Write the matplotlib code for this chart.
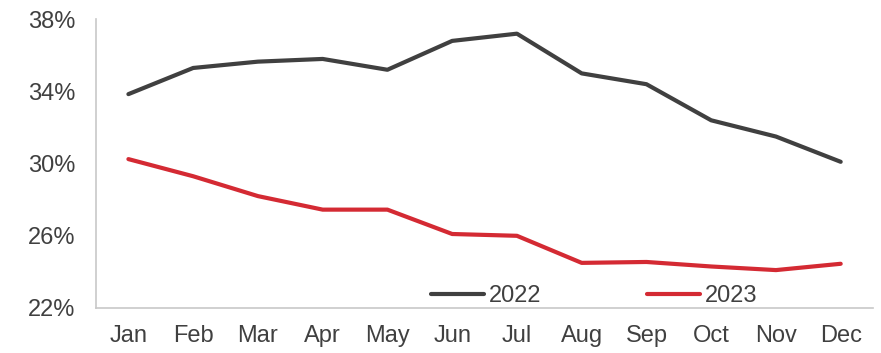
import numpy as np
import matplotlib.pyplot as plt
from matplotlib.ticker import FuncFormatter

plt.rcParams['font.family'] = ['Liberation Sans', 'DejaVu Sans']

months = ['Jan', 'Feb', 'Mar', 'Apr', 'May', 'Jun',
          'Jul', 'Aug', 'Sep', 'Oct', 'Nov', 'Dec']
share_2022 = [33.85, 35.3, 35.65, 35.8, 35.2, 36.8,
              37.2, 35.0, 34.4, 32.4, 31.5, 30.1]
share_2023 = [30.25, 29.3, 28.2, 27.45, 27.45, 26.1,
              26.0, 24.5, 24.55, 24.3, 24.1, 24.45]
y_ticks = [22, 26, 30, 34, 38]

text_col = '#404040'
fs = 17

fig = plt.figure(figsize=(8.81, 3.53), dpi=100)
ax = fig.add_axes([0.109, 0.1275, 0.882, 0.818])

x = np.arange(len(months))
ax.plot(x, share_2022, color='#404040', lw=3, label='2022',
        solid_capstyle='round', solid_joinstyle='round')
ax.plot(x, share_2023, color='#D42A33', lw=3, label='2023',
        solid_capstyle='round', solid_joinstyle='round')

ax.set_xlim(-0.5, len(months) - 0.5)
ax.set_ylim(22, 38)
ax.set_xticks(x)
ax.set_xticklabels(months)
ax.set_yticks(y_ticks)
ax.yaxis.set_major_formatter(FuncFormatter(lambda v, p: f'{v:.0f}%'))

for side in ['top', 'right']:
    ax.spines[side].set_visible(False)
for side in ['left', 'bottom']:
    ax.spines[side].set_color('#C8C8C8')
    ax.spines[side].set_linewidth(1.2)

ax.tick_params(axis='both', length=0, labelsize=fs, colors=text_col)
ax.tick_params(axis='y', pad=15)
ax.tick_params(axis='x', pad=12)

# legend sits inside the plot, just above the x axis
leg = ax.legend(loc='center', bbox_to_anchor=(0.641, 0.04), ncol=2,
                frameon=False, fontsize=fs, handlelength=2.25,
                handletextpad=0.2, columnspacing=4.5, borderpad=0)
for t in leg.get_texts():
    t.set_color(text_col)

fig.savefig('out.png', dpi=100)
